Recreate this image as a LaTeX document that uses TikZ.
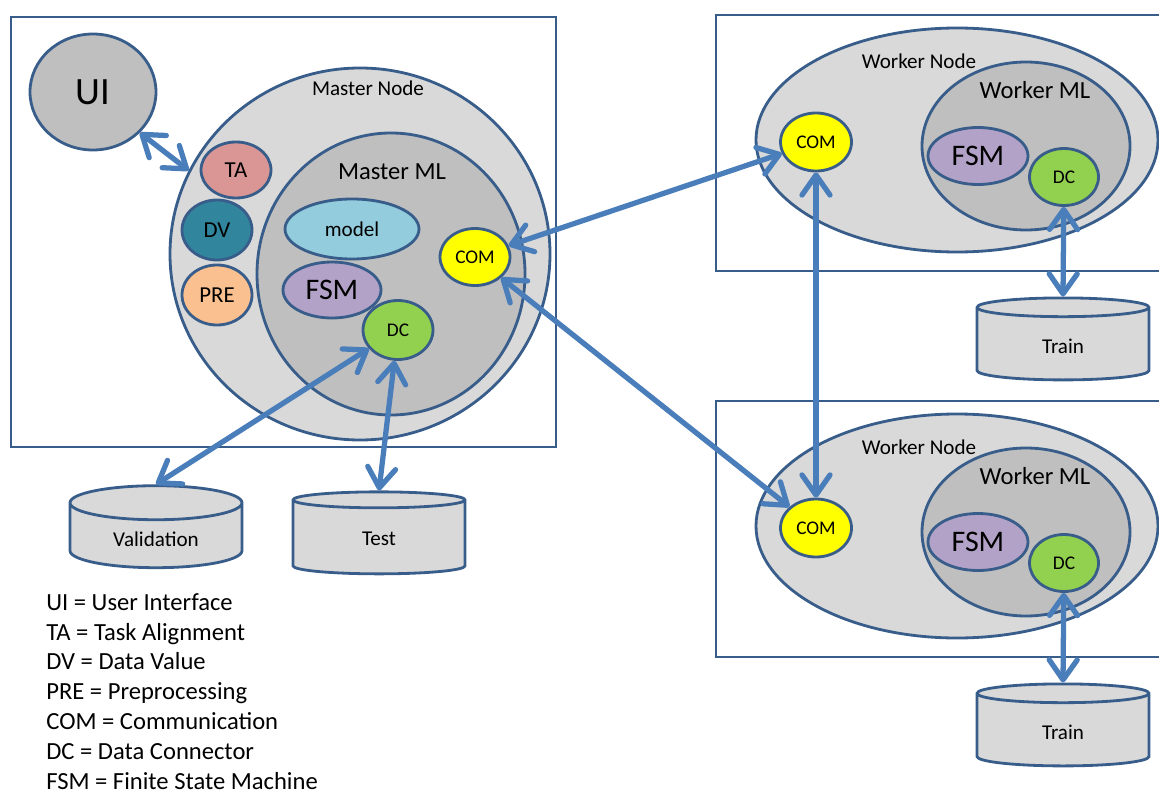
\documentclass[tikz,border=0pt]{standalone}
\usepackage{fontspec}
\setmainfont{Carlito}
\usepackage{tikz}
\usetikzlibrary{arrows.meta,shapes.geometric}
\definecolor{edge}{HTML}{385D8A}
\definecolor{wire}{HTML}{4A7EBB}
\definecolor{light}{HTML}{D9D9D9}
\definecolor{mid}{HTML}{BFBFBF}
\definecolor{rose}{HTML}{D99694}
\definecolor{petrol}{HTML}{31859C}
\definecolor{peach}{HTML}{FAC090}
\definecolor{aqua}{HTML}{93CDDD}
\definecolor{lilac}{HTML}{B3A2C7}
\definecolor{leaf}{HTML}{92D050}
\definecolor{lemon}{HTML}{FFFF00}
\tikzset{
  >={Straight Barb[length=4mm,width=5.6mm,round]},
  link/.style={<->,line width=3pt,draw=wire},
  frame/.style={draw=edge,line width=1.4pt},
  blob/.style={ellipse,draw=edge,line width=1.6pt,inner sep=0pt},
  bignode/.style={blob,fill=light},
  mlnode/.style={blob,fill=mid},
  unit/.style={blob,minimum width=14mm,minimum height=11.6mm},
  store/.style={cylinder,shape border rotate=90,aspect=0.35,draw=edge,
    line width=1.6pt,fill=light,minimum width=34.4mm,minimum height=16.4mm,
    font=\fontsize{12}{14}\selectfont},
  caption/.style={inner sep=0pt}
}
\begin{document}
\begin{tikzpicture}[x=0.2mm,y=-0.2mm]
  \useasboundingbox (0,0) rectangle (1159,792);
  \clip (0,0) rectangle (1159,792);
  % frames
  \draw[frame] (11,17) rectangle (556,447);
  \draw[frame] (716,15) rectangle (1175,271);
  \draw[frame] (716,401) rectangle (1175,657);
  % master side
  \node[blob,fill=mid,minimum width=25.2mm,minimum height=23.2mm,
    font=\fontsize{22}{26}\selectfont] (ui) at (93,92) {UI};
  \node[bignode,minimum width=76mm,minimum height=74.4mm] (mnode) at (360,254) {};
  \node[caption,font=\fontsize{12}{14}\selectfont] (mnodet) at (368,88) {Master Node};
  \node[mlnode,minimum width=53.6mm,minimum height=56.4mm] (mml) at (391,274) {};
  \node[caption,font=\fontsize{14}{16}\selectfont] (mmlt) at (392,172) {Master ML};
  \node[unit,fill=rose,minimum height=11.2mm,font=\fontsize{13}{15}\selectfont] (ta) at (236,170) {TA};
  \node[unit,fill=petrol,minimum height=12mm,font=\fontsize{13}{15}\selectfont] (dv) at (217,230) {DV};
  \node[unit,fill=peach,minimum height=12mm,font=\fontsize{13}{15}\selectfont] (pre) at (217,295) {PRE};
  \node[blob,fill=aqua,minimum width=26.8mm,minimum height=12mm,
    font=\fontsize{12}{14}\selectfont] (model) at (352,229) {model};
  \node[blob,fill=lilac,minimum width=19.6mm,minimum height=11.2mm,
    font=\fontsize{17}{20}\selectfont] (mfsm) at (332,290) {FSM};
  \node[unit,fill=leaf,minimum height=11.8mm,font=\fontsize{11}{13}\selectfont] (mdc) at (398,330) {DC};
  \node[unit,fill=lemon,minimum height=11.4mm,font=\fontsize{11}{13}\selectfont] (mcom) at (475,257) {COM};
  \node[store] (val) at (156,539) {\raisebox{-1.4mm}{Validation}};
  \node[store] (test) at (379,539) {\raisebox{-1.4mm}{Test}};
  % worker 1
  \node[bignode,minimum width=80.4mm,minimum height=44.8mm] (wnode1) at (957,140) {};
  \node[caption,font=\fontsize{12}{14}\selectfont] (wnodet1) at (919,61) {Worker Node};
  \node[mlnode,minimum width=41.6mm,minimum height=33.6mm] (wml1) at (1026,146) {};
  \node[caption,font=\fontsize{14}{16}\selectfont] (wmlt1) at (1035,90) {Worker ML};
  \node[blob,fill=lilac,minimum width=20mm,minimum height=11.4mm,
    font=\fontsize{17}{20}\selectfont] (wfsm1) at (978,156) {FSM};
  \node[unit,fill=leaf,minimum width=13.8mm,minimum height=11.4mm,
    font=\fontsize{11}{13}\selectfont] (wdc1) at (1064,177) {DC};
  \node[unit,fill=lemon,minimum width=14.2mm,font=\fontsize{11}{13}\selectfont] (wcom1) at (816,142) {COM};
  \node[store] (train1) at (1063,346) {\raisebox{-1.4mm}{Train}};
  % worker 2
  \node[bignode,minimum width=80.4mm,minimum height=44.8mm] (wnode2) at (957,526) {};
  \node[caption,font=\fontsize{12}{14}\selectfont] (wnodet2) at (919,447) {Worker Node};
  \node[mlnode,minimum width=41.6mm,minimum height=33.6mm] (wml2) at (1026,532) {};
  \node[caption,font=\fontsize{14}{16}\selectfont] (wmlt2) at (1035,476) {Worker ML};
  \node[blob,fill=lilac,minimum width=20mm,minimum height=11.4mm,
    font=\fontsize{17}{20}\selectfont] (wfsm2) at (978,542) {FSM};
  \node[unit,fill=leaf,minimum width=13.8mm,minimum height=11.4mm,
    font=\fontsize{11}{13}\selectfont] (wdc2) at (1064,563) {DC};
  \node[unit,fill=lemon,minimum width=14.2mm,font=\fontsize{11}{13}\selectfont] (wcom2) at (816,528) {COM};
  \node[store] (train2) at (1063,732) {\raisebox{-1.4mm}{Train}};
  % legend
  \node[caption,anchor=north west,align=left,font=\fontsize{14}{17}\selectfont] (legend) at (46,593)
    {UI = User Interface\\TA = Task Alignment\\DV = Data Value\\PRE = Preprocessing\\
     COM = Communication\\DC = Data Connector\\FSM = Finite State Machine};
  % links
  \draw[link] (ui.-41) -- (mnode.154);
  \draw[link] (mcom) -- (wcom1);
  \draw[link] (mcom) -- (wcom2);
  \draw[link] (wcom1) -- (wcom2);
  \draw[link] (mdc) -- (val.north);
  \draw[link] (mdc) -- (test.north);
  \draw[link] (wdc1) -- (train1.north);
  \draw[link] (wdc2) -- (train2.north);
\end{tikzpicture}
\end{document}
